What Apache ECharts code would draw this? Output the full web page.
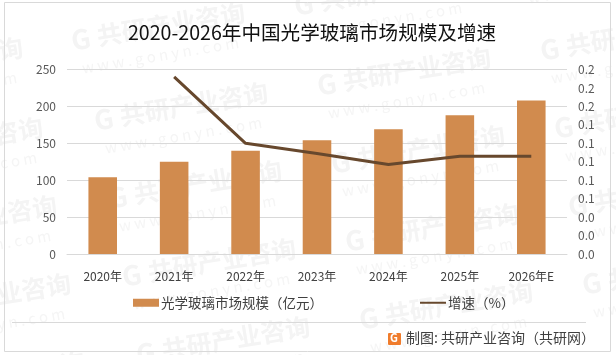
<!DOCTYPE html>
<html>
<head>
<meta charset="utf-8">
<style>
html,body{margin:0;padding:0;background:#fff;}
#chart{width:616px;height:355px;}
</style>
<script src="https://cdn.jsdelivr.net/npm/echarts@6/dist/echarts.min.js"></script>
</head>
<body>
<div id="chart"></div>
<script>
var categories = ['2020年','2021年','2022年','2023年','2024年','2025年','2026年E'];
var marketSize = [104,125,140,154,169,188,208];
var growthRate = [null,0.192,0.120,0.109,0.097,0.106,0.106];
var FONT = '"Noto Sans CJK SC","Noto Sans",sans-serif';

// background watermark, placed on a skewed lattice like the source image
var watermarkAnchors = [
  [-150,80],[72,45],[295,10],[518,-25],
  [-130,160],[95,125],[318,90],[541,55],
  [-116,238],[109,203],[332,168],[555,133],
  [-102,316],[123,281],[346,246],[569,211],
  [-88,394],[137,359],[360,324],[583,289]
];
var graphics = [];
watermarkAnchors.forEach(function(p){
  graphics.push({
    type:'group', x:p[0], y:p[1], rotation:0.165, silent:true, z:-10,
    children:[
      {type:'text', style:{x:0,y:-18,text:'G',fill:'#f4f4f4',font:'bold 27px '+FONT}},
      {type:'text', style:{x:26,y:-17,text:'共研产业咨询',fill:'#f4f4f4',font:'bold 25px '+FONT}},
      {type:'text', style:{x:6,y:17,text:'w w w . g o n y n . c o m',fill:'#f5f5f5',font:'15px '+FONT}}
    ]
  });
});
// frame, footer rule, logo and source line
graphics.push(
  {type:'rect', shape:{x:4.5,y:2.5,width:606,height:349}, style:{fill:'none',stroke:'#d9d9d9',lineWidth:1}, silent:true},
  {type:'line', shape:{x1:12,y1:322.5,x2:586,y2:322.5}, style:{stroke:'#d9d9d9',lineWidth:1}, silent:true},
  {type:'rect', shape:{x:388,y:333,width:13,height:12,r:1}, style:{fill:'#f07c2c'}},
  {type:'text', style:{x:390,y:332,text:'G',fill:'#fff',font:'bold 11px '+FONT}},
  {type:'text', style:{x:406,y:331,text:'制图: 共研产业咨询（共研网）',fill:'#404040',font:'14px '+FONT}}
);

var chart = echarts.init(document.getElementById('chart'));
chart.setOption({
  animation:false,
  backgroundColor:'#fff',
  textStyle:{fontFamily:FONT},
  title:{
    text:'2020-2026年中国光学玻璃市场规模及增速',
    left:123, top:18,
    textStyle:{fontSize:19.6,fontWeight:'normal',color:'#111',fontFamily:FONT}
  },
  legend:{
    left:128, top:291, itemGap:96, itemWidth:26, itemHeight:8,
    textStyle:{fontSize:13.5,color:'#404040',padding:[0,0,0,-3]},
    data:[
      {name:'光学玻璃市场规模（亿元）',icon:'rect'},
      {name:'增速（%）',itemStyle:{opacity:0}}
    ]
  },
  grid:{left:67,right:49,top:69.5,bottom:101},
  xAxis:{
    type:'category', data:categories,
    axisLine:{lineStyle:{color:'#d9d9d9'}},
    axisTick:{show:false},
    axisLabel:{color:'#404040',fontSize:12,margin:16,interval:0}
  },
  yAxis:[
    {type:'value',min:0,max:250,interval:50,
     axisLine:{show:false},axisTick:{show:false},
     axisLabel:{color:'#595959',fontSize:12,margin:11},
     splitLine:{lineStyle:{color:'#d9d9d9'}}},
    {type:'value',min:0,max:0.2,interval:0.02,
     axisLine:{show:false},axisTick:{show:false},splitLine:{show:false},
     axisLabel:{color:'#595959',fontSize:12,margin:11,
       formatter:function(v){return v.toFixed(1);}}}
  ],
  series:[
    {name:'光学玻璃市场规模（亿元）',type:'bar',data:marketSize,barWidth:'40%',
     itemStyle:{color:'#d18b4e'}},
    {name:'增速（%）',type:'line',yAxisIndex:1,data:growthRate,symbol:'none',
     lineStyle:{color:'#67482d',width:3},itemStyle:{color:'#67482d'}}
  ],
  graphic:graphics
});
</script>
</body>
</html>
